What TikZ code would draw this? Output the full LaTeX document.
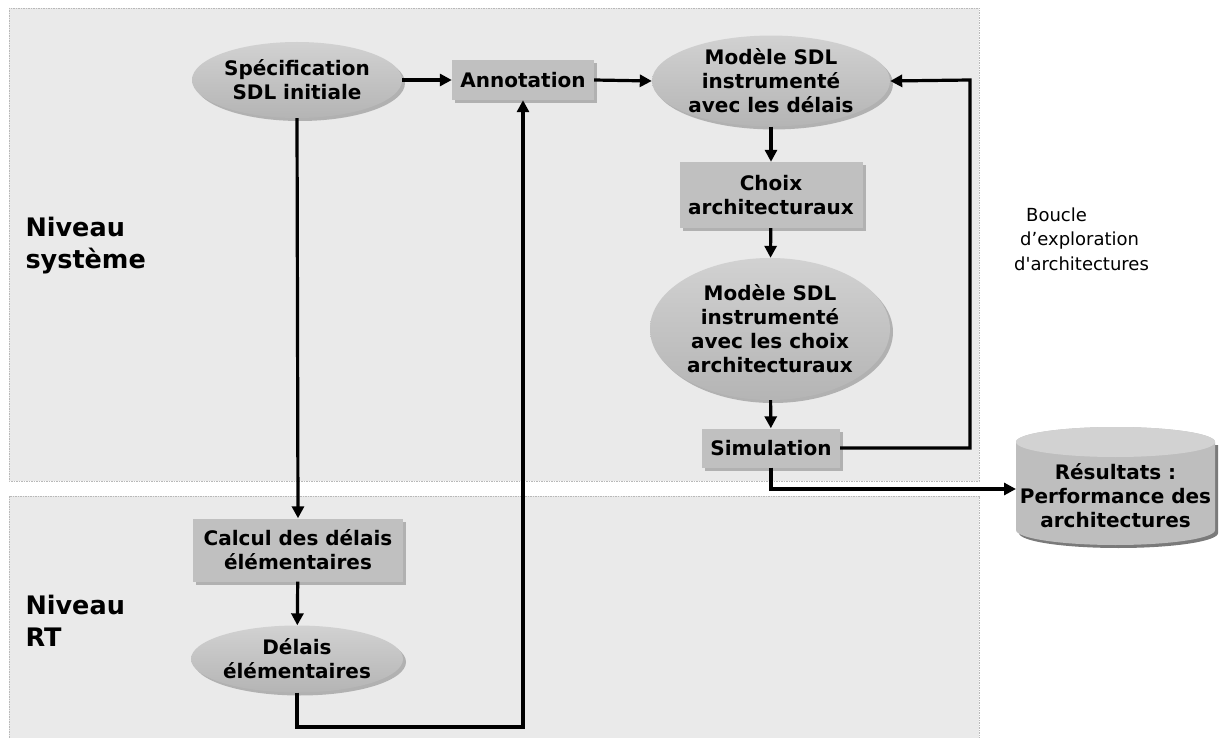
\documentclass[tikz,border=0pt]{standalone}
\usepackage{fontspec}
\setmainfont{DejaVu Sans}[Ligatures=TeXOff]
\usetikzlibrary{arrows.meta,shapes.geometric,shadows}
\definecolor{panel}{HTML}{EAEAEA}
\definecolor{boxfill}{HTML}{C0C0C0}
\definecolor{ellfill}{HTML}{BEBEBE}
\definecolor{shadowc}{HTML}{7A7A7A}
\begin{document}
\begin{tikzpicture}[x=1pt,y=-1pt,
  panelbox/.style={fill=panel, draw=gray!55, line width=0.6pt, dash pattern=on 1.5pt off 1pt},
  procbox/.style={rectangle, fill=boxfill, inner sep=0pt, align=center,
    font=\fontsize{20}{24}\selectfont\bfseries,
    drop shadow={shadow xshift=3pt, shadow yshift=-3pt, fill=shadowc}},
  databox/.style={ellipse, inner sep=0pt, align=center,
    font=\fontsize{20}{24}\selectfont\bfseries,
    top color=ellfill!70!white, bottom color=ellfill!95!black,
    drop shadow={shadow xshift=3pt, shadow yshift=-3pt, fill=shadowc}},
  lvl/.style={anchor=west, align=left, font=\fontsize{25.5}{32}\selectfont\bfseries},
  arr/.style={line width=3.2pt, -{Triangle[length=12pt,width=12pt]}}
]
\useasboundingbox (0,0) rectangle (1219,738);
\fill[white] (0,0) rectangle (1219,738);
% panels
\draw[panelbox] (9,8) rectangle (979,481);
\draw[panelbox] (9,496) rectangle (979,760);
% level labels
\node[lvl] (lvlsys) at (22,246) {Niveau\\système};
\node[lvl] (lvlrt) at (22,621) {Niveau\\RT};
% nodes
\node[databox, minimum width=210pt, minimum height=76pt] (spec) at (297,80) {Spécification\\SDL initiale};
\node[procbox, minimum width=142pt, minimum height=40pt] (annot) at (523,80) {Annotation};
\node[databox, minimum width=238pt, minimum height=84pt] (mod1) at (771,81) {Modèle SDL\\instrumenté\\avec les délais};
\node[procbox, minimum width=183pt, minimum height=66pt] (choix) at (771,195) {Choix\\architecturaux};
\node[databox, minimum width=240pt, minimum height=142pt] (mod2) at (770,329) {Modèle SDL\\instrumenté\\avec les choix\\architecturaux};
\node[procbox, minimum width=138pt, minimum height=39pt] (sim) at (771,448) {Simulation};
\node[procbox, minimum width=210pt, minimum height=63pt] (calc) at (298,550) {Calcul des délais\\élémentaires};
\node[databox, minimum width=212pt, minimum height=67pt] (delais) at (297,659) {Délais\\élémentaires};
% cylinder (results)
\fill[shadowc] (1019,445) -- (1019,533) arc (180:0:99.5 and 15) -- (1218,445) -- cycle;
\fill[ellfill] (1016,442) -- (1016,530) arc (180:0:99.5 and 15) -- (1215,442) arc (0:-180:99.5 and 15) -- cycle;
\fill[gray!35] (1115.5,442) ellipse (99.5 and 15);
\node[rectangle, inner sep=0pt, minimum width=199pt, minimum height=100pt, align=center,
  font=\fontsize{20}{24}\selectfont\bfseries] (res) at (1115.5,496) {Résultats :\\Performance des\\architectures};
\coordinate (resin) at (1016,489);
% loop label
\node[anchor=west, align=left, inner sep=0pt, font=\fontsize{18}{24.5}\selectfont] (loop) at (1014,239) {\hspace*{12pt}Boucle\\\hspace*{6pt}d’exploration\\d'architectures};
% connectors
\coordinate (loopc) at (970,80);
\coordinate (bend) at (523,727);
\draw[arr] (spec.east) -- (annot.west);
\draw[arr] (annot.east) -- (mod1.west);
\draw[arr] (mod1) -- (choix);
\draw[arr] (choix) -- (mod2);
\draw[arr] (mod2) -- (sim);
\draw[arr] (sim.east) -| (loopc) -- (mod1.east);
\draw[arr] (sim.south) |- (resin);
\draw[arr] (spec.south) -- (calc.north);
\draw[arr] (calc) -- (delais);
\draw[arr] (delais.south) |- (bend) -- (annot.south);
\end{tikzpicture}
\end{document}
